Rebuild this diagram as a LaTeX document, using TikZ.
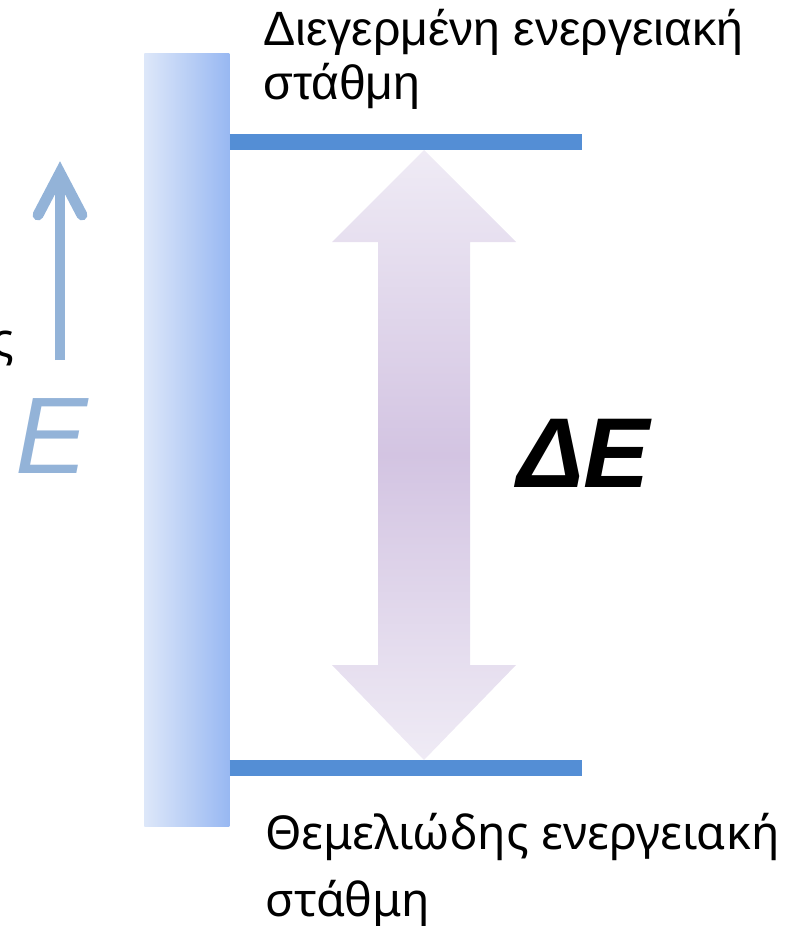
\documentclass[tikz,border=0pt]{standalone}
\usepackage{fontspec}
\setmainfont{Liberation Sans}
\newfontfamily\groundfont{Noto Sans}
\usetikzlibrary{positioning}
\definecolor{barlight}{HTML}{DDE7F9}
\definecolor{bardark}{HTML}{98B8F2}
\definecolor{levelblue}{HTML}{548ED5}
\definecolor{axisblue}{HTML}{93B3D8}
\definecolor{gaplight}{HTML}{EFEBF5}
\definecolor{gapmid}{HTML}{D3C4E2}
\begin{document}
\begin{tikzpicture}[x=0.02cm, y=-0.02cm]
  \tikzset{level/.style={levelblue, line width=9.3pt},
    lbl/.style={align=left, inner sep=0pt, anchor=base west}}
  \useasboundingbox (0,0) rectangle (794,926);
  % energy column
  \node[inner sep=0, minimum width=1.7cm, minimum height=15.46cm, left color=barlight, right color=bardark, anchor=north west] (column) at (144,53) {};
  \coordinate (upper) at (column.east |- 0,142);
  \coordinate (lower) at (column.east |- 0,768);
  \draw[level] (upper) -- ++(352,0) coordinate (upperend);
  \draw[level] (lower) -- ++(352,0) coordinate (lowerend);
  \node[lbl, font=\fontsize{27.4}{31.2}\selectfont] (excited) at (263,100) {Διεγερμένη ενεργειακή\\στάθμη};
  \node[lbl, font=\groundfont\fontsize{26.6}{38}\selectfont] (ground) at (265,916) {Θεμελιώδης ενεργειακή\\στάθμη};
  % energy axis
  \coordinate (axisbot) at (60,360);
  \coordinate (axistop) at (60,173);
  \draw[axisblue, line width=6.2pt] (axisbot) -- (axistop);
  \draw[axisblue, line width=6.2pt, line cap=round, line join=miter] (38,215) -- (axistop) -- (82,215);
  \node[lbl, font=\fontsize{62}{70}\selectfont\itshape, text=axisblue] (axislabel) at (15,473) {E};
  \node[inner sep=0pt, anchor=base east, font=\groundfont\fontsize{26.6}{38}\selectfont] (cut) at (15,356) {ς};
  % energy gap
  \coordinate (gaptop) at (424,150);
  \coordinate (gapbot) at (424,760);
  \shade[top color=gaplight, bottom color=gaplight, middle color=gapmid]
    (gaptop) -- (516,242) -- (470,242) -- (470,665) -- (516,665) -- (gapbot)
    -- (332,665) -- (378,665) -- (378,242) -- (332,242) -- cycle;
  \node[lbl, font=\fontsize{56.5}{64}\selectfont\bfseries\itshape] (gap) at (517,487) {ΔE};
\end{tikzpicture}
\end{document}
